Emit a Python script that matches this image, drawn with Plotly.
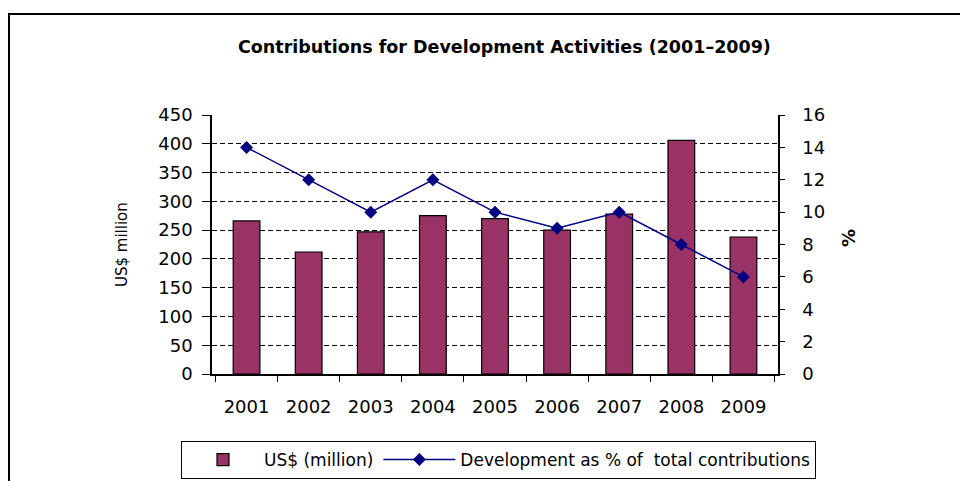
import plotly.graph_objects as go

years = ["2001", "2002", "2003", "2004", "2005", "2006", "2007", "2008", "2009"]
usd_million = [266, 212, 247, 275, 270, 250, 278, 406, 238]
dev_pct = [14, 12, 10, 12, 10, 9, 10, 8, 6]

left_ticks = list(range(0, 451, 50))
right_ticks = list(range(0, 17, 2))

W, H = 960, 481
L, R, T, B = 212, 778, 115, 374  # plot area in pixels

def px_x(x):
    return (x - L) / (R - L)

def px_y(y):
    return (B - y) / (B - T)

fig = go.Figure()
fig.add_trace(go.Bar(
    x=years, y=usd_million, name="US$ (million)",
    marker=dict(color="#993366", line=dict(color="black", width=1.2)),
    yaxis="y",
))
fig.add_trace(go.Scatter(
    x=years, y=dev_pct, name="Development as % of  total contributions",
    mode="lines+markers",
    line=dict(color="#000080", width=1.5),
    marker=dict(symbol="diamond", size=10, color="#000080"),
    yaxis="y2",
))

sans = "DejaVu Sans, Liberation Sans, sans-serif"
tick_font = dict(family=sans, size=18, color="black")

fig.update_layout(
    width=W, height=H,
    margin=dict(l=L, r=W - R, t=T, b=H - B, pad=0, autoexpand=False),
    paper_bgcolor="white", plot_bgcolor="white",
    bargap=0.57,
    showlegend=True,
    legend=dict(
        orientation="h", x=px_x(181), y=px_y(441), xanchor="left", yanchor="top",
        bordercolor="black", borderwidth=1,
        font=dict(family=sans, size=17, color="black"),
        itemwidth=72, tracegroupgap=0,
    ),
    xaxis=dict(
        type="category", tickson="boundaries", ticks="outside", ticklen=6,
        tickcolor="black", showline=True, linecolor="black", linewidth=1.5,
        tickfont=tick_font, ticklabelstandoff=16, showgrid=False,
        automargin=False,
    ),
    yaxis=dict(
        range=[0, 450], tickvals=left_ticks, ticks="outside", ticklen=8,
        tickcolor="black", showline=True, linecolor="black", linewidth=1.5,
        tickfont=tick_font, ticklabelstandoff=6,
        showgrid=True, gridcolor="black", gridwidth=1, griddash="5px,3px",
        zeroline=False, automargin=False,
    ),
    yaxis2=dict(
        range=[0, 16], tickvals=right_ticks, overlaying="y", side="right",
        ticks="outside", ticklen=5, tickcolor="black", showline=True,
        linecolor="black", linewidth=1.5, tickfont=tick_font,
        ticklabelstandoff=14, showgrid=False, zeroline=False, automargin=False,
    ),
    shapes=[dict(
        type="rect", xref="paper", yref="paper",
        x0=px_x(9), x1=px_x(965), y0=px_y(490), y1=px_y(14),
        line=dict(color="black", width=2), layer="below",
    )],
    annotations=[
        dict(text="<b>Contributions for Development Activities (2001\u20132009)</b>",
             xref="paper", yref="paper", x=px_x(504), y=px_y(47),
             xanchor="center", yanchor="middle", showarrow=False,
             font=dict(family=sans, size=17.5, color="black")),
        dict(text="US$ million", xref="paper", yref="paper",
             x=px_x(122), y=px_y(245), xanchor="center", yanchor="middle",
             textangle=-90, showarrow=False,
             font=dict(family=sans, size=15, color="black")),
        dict(text="<b>%</b>", xref="paper", yref="paper",
             x=px_x(848), y=px_y(238), xanchor="center", yanchor="middle",
             textangle=-90, showarrow=False,
             font=dict(family=sans, size=18, color="black")),
    ],
)

fig.write_html("out.html")
